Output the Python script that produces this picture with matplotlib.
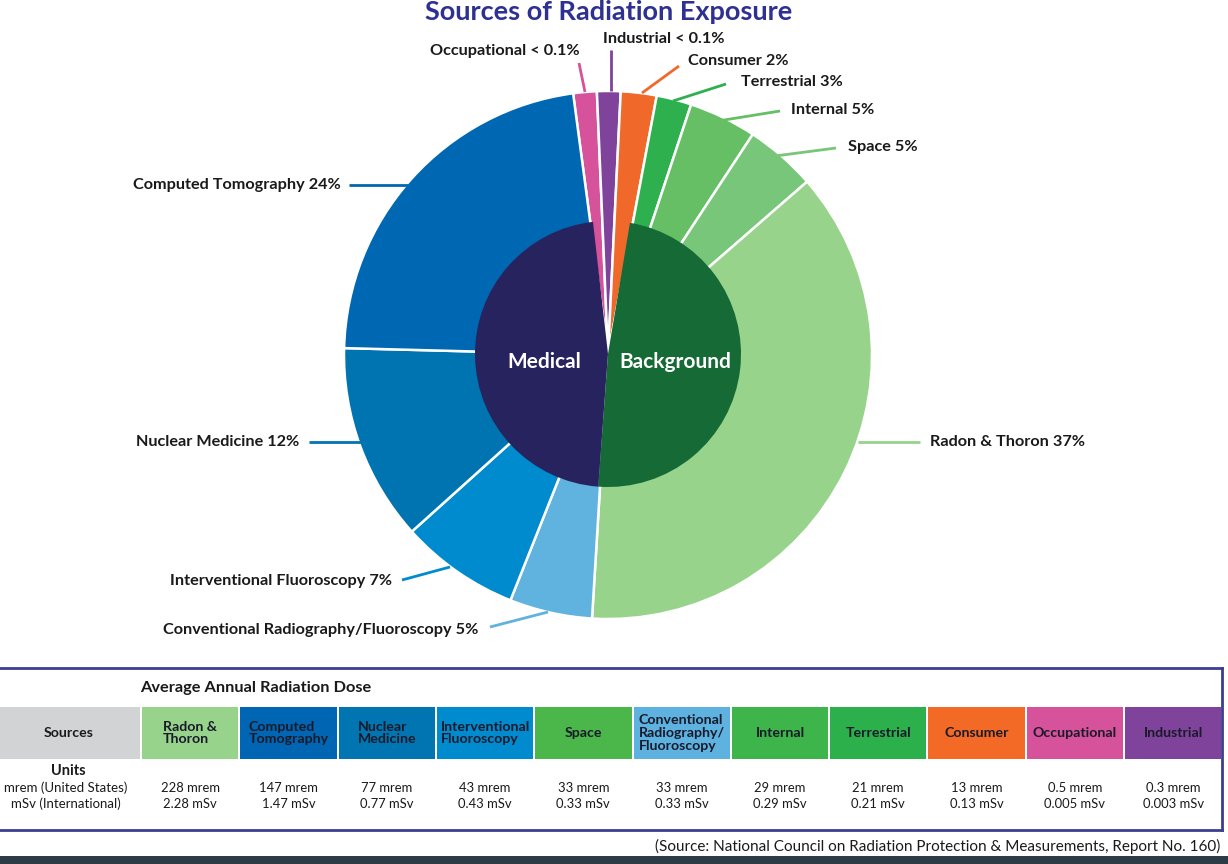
import matplotlib
matplotlib.use("Agg")
import matplotlib.pyplot as plt
from matplotlib.patches import Rectangle

plt.rcParams['font.family'] = ['Lato', 'DejaVu Sans']

# ===================== DATA =====================
# outer ring, clockwise from the top (share of the circle as drawn, in %)
sources = ['Occupational', 'Industrial', 'Consumer', 'Terrestrial', 'Internal', 'Space',
           'Radon & Thoron', 'Conventional Radiography/Fluoroscopy',
           'Interventional Fluoroscopy', 'Nuclear Medicine', 'Computed Tomography']
pct_labels = ['< 0.1%', '< 0.1%', '2%', '3%', '5%', '5%', '37%', '5%', '7%', '12%', '24%']
wedge_share = [1.44, 1.44, 2.19, 2.14, 4.14, 4.36, 37.36, 5.06, 7.31, 12.08, 22.47]
ring_colors = ['#d6529b', '#80439b', '#f1692a', '#2db04d', '#66bf64', '#78c679',
               '#97d38b', '#60b2df', '#008bcf', '#0074b0', '#0067b2']

# inner pie: Background, Medical, gap (other)
inner_names = ['Background', 'Medical', '']
inner_share = [48.53, 47.03, 4.44]
inner_colors = ['#156a35', '#27235f', 'none']

# table
tab_names = ['Radon &\nThoron', 'Computed\nTomography', 'Nuclear\nMedicine',
             'Interventional\nFluoroscopy', 'Space', 'Conventional\nRadiography/\nFluoroscopy',
             'Internal', 'Terrestrial', 'Consumer', 'Occupational', 'Industrial']
tab_colors = ['#97d38b', '#0066b3', '#0075b1', '#008bcf', '#4bb74a', '#5db2e0',
              '#3db54a', '#2bb04c', '#f26a25', '#d6529b', '#80439b']
mrem = [228, 147, 77, 43, 33, 33, 29, 21, 13, 0.5, 0.3]
msv = ['2.28', '1.47', '0.77', '0.43', '0.33', '0.33', '0.29', '0.21', '0.13', '0.005', '0.003']

# ===================== FIGURE =====================
W, H = 1228, 864
fig = plt.figure(figsize=(W / 100, H / 100), dpi=100)
ax = fig.add_axes([0, 0, 1, 1])


def Y(y):
    # image y (top down) -> axes y
    return H - y


cx, cy = 608, Y(355)
R_out, R_in = 264, 133

ax.pie(wedge_share, colors=ring_colors, startangle=97.6, counterclock=False,
       radius=R_out, center=(cx, cy),
       wedgeprops=dict(edgecolor='white', linewidth=1.8))
ax.pie(inner_share, colors=inner_colors, startangle=80.5, counterclock=False,
       radius=R_in, center=(cx, cy + 1),
       wedgeprops=dict(linewidth=0))

ax.text(544, Y(362), 'Medical', color='white', fontsize=15, fontweight='bold',
        ha='center', va='center')
ax.text(675, Y(362), 'Background', color='white', fontsize=15, fontweight='bold',
        ha='center', va='center')

# labels + leader lines (text anchor, alignment, line start, line end)
label_layout = [
    ((580, 51), 'right', (579, 63), (585, 92)),
    ((603, 39), 'left', (611, 50), (611, 91)),
    ((688, 61), 'left', (679, 66), (642, 93)),
    ((741, 82), 'left', (726, 84), (673, 101)),
    ((791, 110), 'left', (780, 111), (718, 121)),
    ((848, 147), 'left', (836, 148), (775, 156)),
    ((930, 442), 'left', (858, 442), (920, 442)),
    ((478, 630), 'right', (490, 627), (548, 612)),
    ((392, 581), 'right', (402, 580), (450, 567)),
    ((299, 442), 'right', (309, 442), (361, 442)),
    ((341, 185), 'right', (349, 185), (408, 185)),
]
for name, pct, c, (tpos, ha, p0, p1) in zip(sources, pct_labels, ring_colors, label_layout):
    ax.text(tpos[0], Y(tpos[1]), f'{name} {pct}', fontsize=11.7, fontweight='bold',
            color='#1a1a1a', ha=ha, va='center')
    ax.plot([p0[0], p1[0]], [Y(p0[1]), Y(p1[1])], color=c, lw=2, solid_capstyle='butt')

ax.text(609, Y(0), 'Sources of Radiation Exposure', color='#2e3192', fontsize=19.5,
        fontweight='bold', ha='center', va='top')

# ===================== TABLE =====================
box_c = '#3b3f8f'
ax.plot([0, 1222], [Y(668), Y(668)], color=box_c, lw=2)
ax.plot([0, 1222], [Y(830), Y(830)], color=box_c, lw=2)
ax.plot([1222, 1222], [Y(668), Y(830)], color=box_c, lw=2)

ax.text(140, Y(688), 'Average Annual Radiation Dose', fontsize=11.8, fontweight='bold',
        color='#1a1a1a', ha='left', va='center')

top, bot = 707, 759
ax.add_patch(Rectangle((0, Y(bot)), 140, bot - top, facecolor='#d1d3d4', edgecolor='none'))
ax.text(69, Y(733), 'Sources', fontsize=10.2, fontweight='bold', color='#1a1a1a',
        ha='center', va='center')
ax.text(68, Y(771), 'Units', fontsize=10.5, fontweight='bold', color='#1a1a1a',
        ha='center', va='center')
ax.text(66, Y(788), 'mrem (United States)', fontsize=9.5, color='#1a1a1a', ha='center', va='center')
ax.text(66, Y(804), 'mSv (International)', fontsize=9.5, color='#1a1a1a', ha='center', va='center')

x0, step, cw = 142, 98.3, 96.3
for i, (nm, c, m, s) in enumerate(zip(tab_names, tab_colors, mrem, msv)):
    xl = x0 + i * step
    ax.add_patch(Rectangle((xl, Y(bot)), cw, bot - top, facecolor=c, edgecolor='none'))
    ax.text(xl + cw / 2, Y(733), nm, fontsize=10.2, fontweight='bold', color='#1a1a2a',
            ha='center', va='center', multialignment='left', linespacing=1.05)
    ax.text(xl + cw / 2, Y(788), f'{m:g} mrem', fontsize=9.4, color='#1a1a1a',
            ha='center', va='center')
    ax.text(xl + cw / 2, Y(804), f'{s} mSv', fontsize=9.4, color='#1a1a1a',
            ha='center', va='center')

ax.text(1220, Y(846), '(Source: National Council on Radiation Protection & Measurements, Report No. 160)',
        fontsize=11, color='#1a1a1a', ha='right', va='center')

ax.add_patch(Rectangle((0, 0), W, 8, facecolor='#2d3b45', edgecolor='none'))

ax.set_xlim(0, W)
ax.set_ylim(0, H)
ax.set_aspect('auto')
ax.axis('off')

plt.savefig('out.png', dpi=100)
